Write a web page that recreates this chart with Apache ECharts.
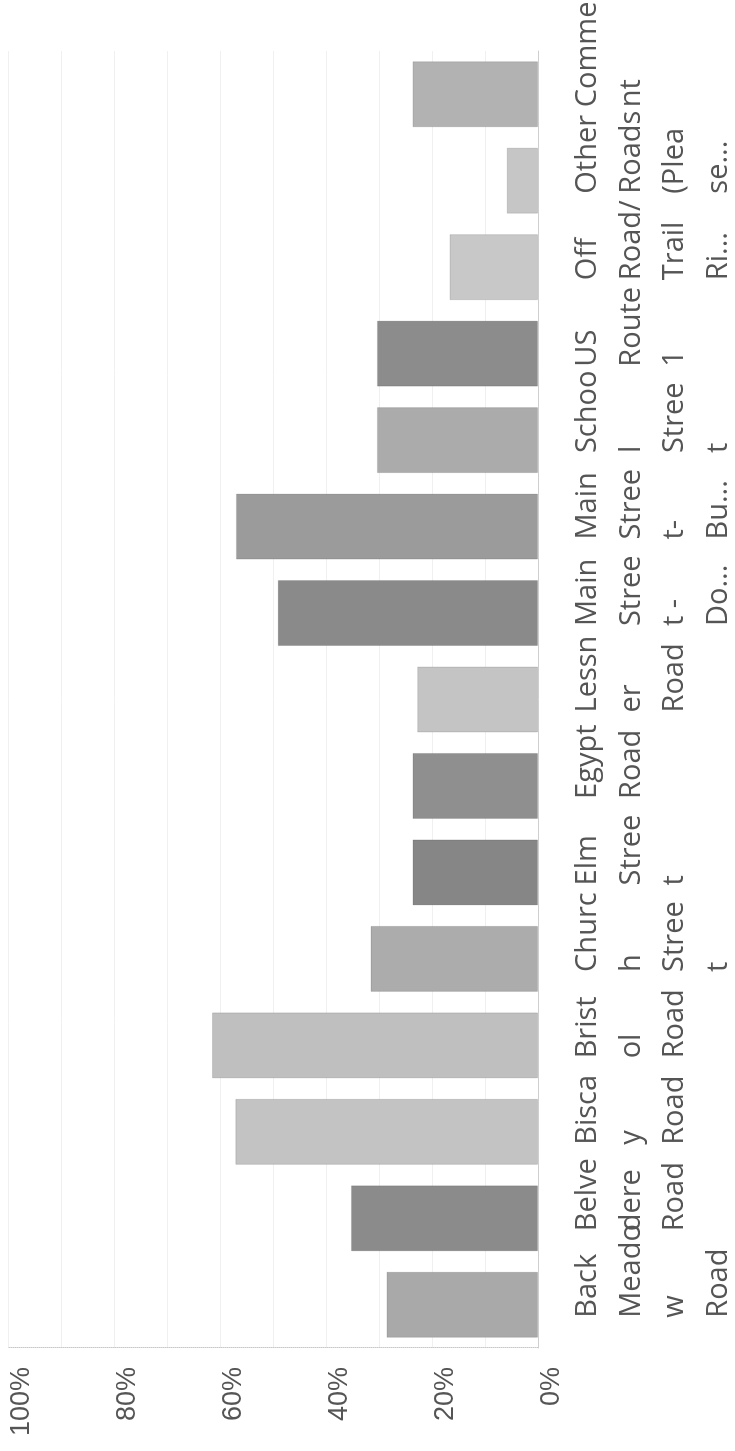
<!DOCTYPE html>
<html>
<head>
<meta charset="utf-8">
<script src="https://cdn.jsdelivr.net/npm/echarts@6/dist/echarts.min.js"></script>
<style>
  html, body { margin: 0; padding: 0; background: #ffffff; }
  #page { position: absolute; left: 0; top: 0; width: 735px; height: 1451px; overflow: hidden; background: #fff; }
  /* the reference is the chart turned a quarter turn counter-clockwise */
  #chart { position: absolute; left: 0; top: 0; width: 1451px; height: 735px;
           transform-origin: 0 0; transform: translate(0px, 1451px) rotate(-90deg); }
</style>
</head>
<body>
<div id="page"><div id="chart"></div></div>
<script>
// ---- data ----
const categories = [
  "Back\nMeado\nw\nRoad",
  "Belve\ndere\nRoad",
  "Bisca\ny\nRoad",
  "Brist\nol\nRoad",
  "Churc\nh\nStree\nt",
  "Elm\nStree\nt",
  "Egypt\nRoad",
  "Lessn\ner\nRoad",
  "Main\nStree\nt -\nDo...",
  "Main\nStree\nt-\nBu...",
  "Schoo\nl\nStree\nt",
  "US\nRoute\n1",
  "Off\nRoad/\nTrail\nRi...",
  "Other\nRoads\n(Plea\nse...",
  "Comme\nnt"
];
const values = [28.6, 35.3, 57.1, 61.5, 31.6, 23.7, 23.7, 22.8, 49.1, 57.0, 30.4, 30.4, 16.7, 5.9, 23.7];
const valueTicks = [0, 20, 40, 60, 80, 100];

// ---- styles ----
const barColors = ["#a9a9a9", "#8b8b8b", "#c3c3c3", "#bfbfbf", "#acacac", "#868686", "#8f8f8f", "#c4c4c4",
                   "#8a8a8a", "#9b9b9b", "#ababab", "#8c8c8c", "#c8c8c8", "#c6c6c6", "#b2b2b2"];
const textColor = "#555555";

const chart = echarts.init(document.getElementById('chart'), null, { renderer: 'canvas', width: 1451, height: 735 });
chart.setOption({
  animation: false,
  backgroundColor: '#ffffff',
  grid: { left: 103, right: 7, top: 8, bottom: 197, containLabel: false },
  xAxis: {
    type: 'category',
    data: categories,
    axisLine: { show: true, lineStyle: { color: '#cfcfcf', width: 1 } },
    axisTick: { show: false },
    splitLine: { show: false },
    axisLabel: {
      interval: 0,
      margin: 28,
      align: 'center',
      verticalAlign: 'top',
      formatter: function (v) { return v.split('\n').map(function (s) { return '{a|' + s + '}'; }).join('\n'); },
      rich: { a: { width: 26, align: 'left', fontSize: 29, lineHeight: 43.5, fontFamily: 'Open Sans', color: textColor } }
    }
  },
  yAxis: {
    type: 'value',
    min: 0,
    max: 100,
    interval: 10,
    axisLine: { show: true, lineStyle: { color: '#c8c8c8', type: 'dotted', width: 1 } },
    axisTick: { show: false },
    splitLine: { show: true, lineStyle: { color: '#f0f0f0', width: 1 } },
    axisLabel: {
      margin: 19,
      verticalAlign: 'top',
      fontSize: 27,
      fontFamily: 'Liberation Sans',
      color: textColor,
      formatter: function (v) { return valueTicks.indexOf(v) >= 0 ? v + '%' : ''; }
    }
  },
  series: [{
    type: 'bar',
    barWidth: 66,
    data: values.map(function (v, i) {
      return { value: v, itemStyle: { color: barColors[i], borderColor: 'rgba(0,0,0,0.12)', borderWidth: 1 } };
    })
  }]
});
</script>
</body>
</html>
